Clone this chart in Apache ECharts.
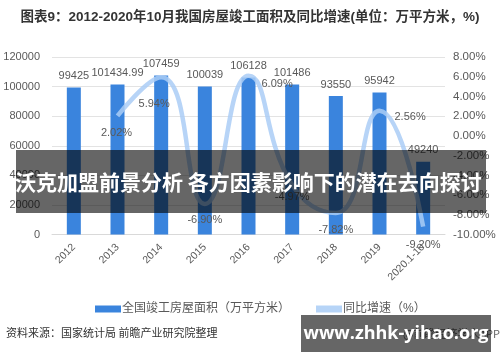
<!DOCTYPE html>
<html><head><meta charset="utf-8">
<script src="https://cdn.jsdelivr.net/npm/echarts@6/dist/echarts.min.js"></script>
<style>html,body{margin:0;padding:0;background:#fff}#c{width:500px;height:362px}</style>
</head><body><div id="c"></div>
<script>
const categories = ['2012','2013','2014','2015','2016','2017','2018','2019','2020.1-10'];
const areaValues = [99425, 101434.99, 107459, 100039, 106128, 101486, 93550, 95942, 49240];
const growthValues = [null, 2.02, 5.94, -6.90, 6.09, -4.97, -7.82, 2.56, -9.20];
const leftTicks = {min: 0, max: 120000, interval: 20000};
const rightTicks = {min: -10, max: 8, interval: 2};

// label placement per point (style only)
const lineLabelPos = [
  null,
  {position:'bottom', offset:[-1, 6]},
  {position:'bottom', offset:[-7, 16]},
  {position:'bottom', offset:[0, 6]},
  {position:'right', offset:[8, 8]},
  {position:'bottom', offset:[0, 2]},
  {position:'bottom', offset:[0, 6]},
  {position:'right', offset:[10, 6]},
  {position:'bottom', offset:[0, 8]}
];
const FONT = '"Liberation Sans","Noto Sans CJK SC",sans-serif';
const chart = echarts.init(document.getElementById('c'));
chart.setOption({
  animation: false,
  textStyle: {fontFamily: FONT},
  title: {
    text: '图表9：2012-2020年10月我国房屋竣工面积及同比增速(单位：万平方米，%)',
    left: 'center', top: 6,
    textStyle: {fontSize: 13.5, fontWeight: 'bold', color: '#333', fontFamily: FONT}
  },
  grid: {left: 52, right: 55, top: 57, bottom: 127.5},
  legend: {
    left: 90, top: 298, itemGap: 26, itemWidth: 26, itemHeight: 7,
    textStyle: {fontSize: 12, color: '#595959', fontFamily: FONT, padding: [0, 0, 0, -4]},
    data: [
      {name: '全国竣工房屋面积（万平方米）', icon: 'rect'},
      {name: '同比增速（%）', icon: 'rect', itemStyle: {color: '#b6d4f7'}}
    ]
  },
  xAxis: {
    type: 'category', data: categories,
    axisLine: {lineStyle: {color: '#d9d9d9'}},
    axisTick: {show: false},
    axisLabel: {rotate: 45, color: '#595959', fontSize: 10.5, margin: 11, interval: 0}
  },
  yAxis: [
    {type: 'value', min: leftTicks.min, max: leftTicks.max, interval: leftTicks.interval,
     axisLine: {show: false}, axisTick: {show: false},
     axisLabel: {color: '#595959', fontSize: 11, margin: 12, formatter: v => String(v)},
     splitLine: {lineStyle: {color: '#e3e3e3'}}},
    {type: 'value', min: rightTicks.min, max: rightTicks.max, interval: rightTicks.interval,
     axisLine: {show: false}, axisTick: {show: false},
     axisLabel: {color: '#595959', fontSize: 11.5, margin: 8, formatter: v => v.toFixed(2) + '%'},
     splitLine: {show: false}}
  ],
  series: [
    {name: '全国竣工房屋面积（万平方米）', type: 'bar', data: areaValues, barWidth: 14,
     itemStyle: {color: '#3a84dd'},
     label: {show: true, position: 'top', color: '#595959', fontSize: 11, distance: 6}},
    {name: '同比增速（%）', type: 'line', yAxisIndex: 1, smooth: 0.5, showSymbol: true, symbol: 'circle', symbolSize: 0.01,
     connectNulls: false,
     lineStyle: {color: '#aacdf6', width: 4.5, opacity: 0.85},
     itemStyle: {color: 'rgba(0,0,0,0)'},
     data: growthValues.map((v, i) => {
       if (v === null) return null;
       const p = lineLabelPos[i];
       return {value: v, label: {show: true, position: p.position, offset: p.offset,
         color: '#595959', fontSize: 11, formatter: d => Number(d.value).toFixed(2) + '%'}};
     })}
  ],
  graphic: [
    {type: 'text', left: 6, top: 327, z: 50,
     style: {text: '资料来源：国家统计局 前瞻产业研究院整理', fill: '#333', font: '11px "Noto Sans CJK SC",sans-serif'}},
    {type: 'text', right: 0, top: 328, z: 50,
     style: {text: '@前瞻经济学人APP', fill: '#666', font: '11px "Noto Sans CJK SC",sans-serif'}},
    {type: 'rect', shape: {x: 16, y: 150, width: 470, height: 63}, z: 100,
     style: {fill: 'rgba(0,0,0,0.6)'}},
    {type: 'text', x: 15, y: 182, z: 101,
     style: {text: '沃克加盟前景分析 各方因素影响下的潜在去向探讨', fill: '#fff',
       font: 'bold 21px "Noto Sans CJK SC",sans-serif', verticalAlign: 'middle'}},
    {type: 'rect', shape: {x: 301, y: 315, width: 190, height: 37}, z: 100,
     style: {fill: 'rgba(0,0,0,0.6)'}},
    {type: 'text', x: 396, y: 334, z: 101,
     style: {text: 'www.zhhk-yihao.org', fill: '#fff', align: 'center', verticalAlign: 'middle',
       font: 'bold 18px "Open Sans","DejaVu Sans",sans-serif'}}
  ]
});
</script></body></html>
